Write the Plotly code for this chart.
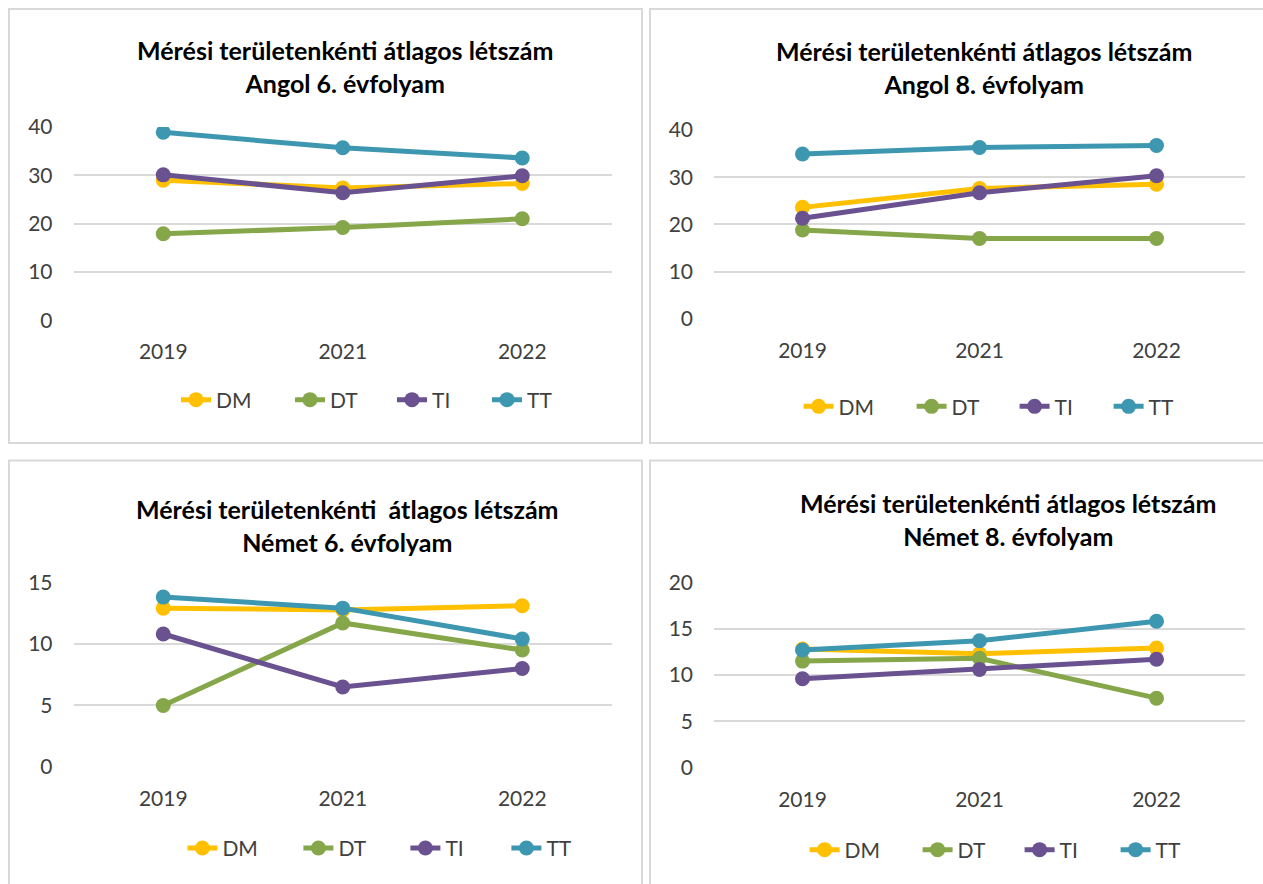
import plotly.graph_objects as go

# Figure size in pixels
W, H = 1263, 884

years = ["2019", "2021", "2022"]
series_names = ["DM", "DT", "TI", "TT"]
colors = {"DM": "#FFC000", "DT": "#86A64A", "TI": "#6A5190", "TT": "#3E97B0"}

# Average class sizes per measurement area
angol6 = {
    "DM": [29.0, 27.4, 28.3],
    "DT": [17.9, 19.2, 21.0],
    "TI": [30.1, 26.4, 29.9],
    "TT": [38.9, 35.7, 33.6],
}
angol8 = {
    "DM": [23.6, 27.6, 28.5],
    "DT": [18.8, 17.0, 17.0],
    "TI": [21.3, 26.7, 30.3],
    "TT": [34.9, 36.3, 36.7],
}
nemet6 = {
    "DM": [12.9, 12.75, 13.1],
    "DT": [5.0, 11.7, 9.5],
    "TI": [10.8, 6.5, 8.0],
    "TT": [13.8, 12.9, 10.4],
}
nemet8 = {
    "DM": [12.8, 12.3, 12.9],
    "DT": [11.5, 11.8, 7.5],
    "TI": [9.6, 10.6, 11.7],
    "TT": [12.7, 13.7, 15.8],
}

titles = [
    "Mérési területenkénti átlagos létszám<br>Angol 6. évfolyam",
    "Mérési területenkénti átlagos létszám<br>Angol 8. évfolyam",
    "Mérési területenkénti \u00a0átlagos létszám<br>Német 6. évfolyam",
    "Mérési területenkénti átlagos létszám<br>Német 8. évfolyam",
]
y_max = [40, 40, 15, 20]
y_step = [10, 10, 5, 5]


def px(x):
    return x / W


def py(y):
    return 1 - y / H


# Layout geometry of each panel (pixels); legend_x is where the first label starts
panels = [
    dict(data=angol6, plot_x=(73.5, 612), plot_y=(127, 320.3), title_xy=(345, 67),
         legend_x=216, legend_y=400, legend_steps=(114, 102, 95), box=(9, 9, 642, 443)),
    dict(data=angol8, plot_x=(714, 1245), plot_y=(130, 318.7), title_xy=(983.5, 68),
         legend_x=838.6, legend_y=406.7, legend_steps=(113, 103, 94), box=(650, 9, 1270, 443)),
    dict(data=nemet6, plot_x=(73.5, 612), plot_y=(582.3, 767), title_xy=(348, 525.5),
         legend_x=222.4, legend_y=848.3, legend_steps=(116, 107, 101), box=(9, 460.5, 642, 900)),
    dict(data=nemet8, plot_x=(714, 1245), plot_y=(582.3, 767.7), title_xy=(1007.7, 519.7),
         legend_x=844.6, legend_y=850, legend_steps=(113, 102, 96), box=(650, 460.5, 1270, 900)),
]

FONT = "Lato, 'Open Sans', sans-serif"
TEXT_COLOR = "#404040"
TEXT_GAP = 40    # legend: symbol area before the label (itemwidth 30 + 2*5)
ITEM_GAP = 5

fig = go.Figure()
layout = dict(
    width=W, height=H,
    margin=dict(l=0, r=0, t=0, b=0, autoexpand=False),
    paper_bgcolor="white", plot_bgcolor="white",
    showlegend=True,
    shapes=[], annotations=[],
)

for i, p in enumerate(panels):
    n = i + 1
    xa = "xaxis" if n == 1 else f"xaxis{n}"
    ya = "yaxis" if n == 1 else f"yaxis{n}"
    xref = "x" if n == 1 else f"x{n}"
    yref = "y" if n == 1 else f"y{n}"
    lg = "legend" if n == 1 else f"legend{n}"

    steps = list(p["legend_steps"]) + [100]
    for k, name in enumerate(series_names):
        fig.add_trace(go.Scatter(
            x=years, y=p["data"][name], name=name,
            mode="lines+markers",
            line=dict(color=colors[name], width=5),
            marker=dict(color=colors[name], size=15),
            xaxis=xref, yaxis=yref, legend=lg,
            legendwidth=steps[k] - TEXT_GAP - ITEM_GAP,
            hoverinfo="x+y+name",
        ))

    x0, x1 = p["plot_x"]
    y0, y1 = p["plot_y"]
    layout[xa] = dict(
        domain=[px(x0), px(x1)], anchor=yref, type="category",
        range=[-0.5, 2.5], showgrid=False, zeroline=False, showline=False,
        ticks="", tickfont=dict(family=FONT, size=21, color=TEXT_COLOR),
        ticklabelstandoff=17, fixedrange=True,
    )
    layout[ya] = dict(
        domain=[py(y1), py(y0)], anchor=xref, range=[0, y_max[i]],
        dtick=y_step[i], tick0=0, showgrid=True, gridcolor="#D9D9D9", gridwidth=1.5,
        zeroline=False, showline=False, ticks="",
        tickfont=dict(family=FONT, size=21, color=TEXT_COLOR),
        ticklabelstandoff=20, fixedrange=True,
    )
    layout[lg] = dict(
        orientation="h", x=px(p["legend_x"] - TEXT_GAP), y=py(p["legend_y"]),
        xanchor="left", yanchor="middle",
        font=dict(family=FONT, size=21, color=TEXT_COLOR),
        bgcolor="rgba(0,0,0,0)", itemclick=False, itemdoubleclick=False,
        tracegroupgap=0,
    )
    tx, ty = p["title_xy"]
    layout["annotations"].append(dict(
        text=titles[i], x=px(tx), y=py(ty), xref="paper", yref="paper",
        xanchor="center", yanchor="middle", showarrow=False, align="center",
        font=dict(family=FONT, size=25, color="#000000", weight="bold"),
    ))
    bx0, by0, bx1, by1 = p["box"]
    layout["shapes"].append(dict(
        type="rect", xref="paper", yref="paper",
        x0=px(bx0), x1=px(bx1), y0=py(by1), y1=py(by0),
        line=dict(color="#D9D9D9", width=2), fillcolor="rgba(0,0,0,0)", layer="below",
    ))

fig.update_layout(**layout)
fig.write_html("out.html")
